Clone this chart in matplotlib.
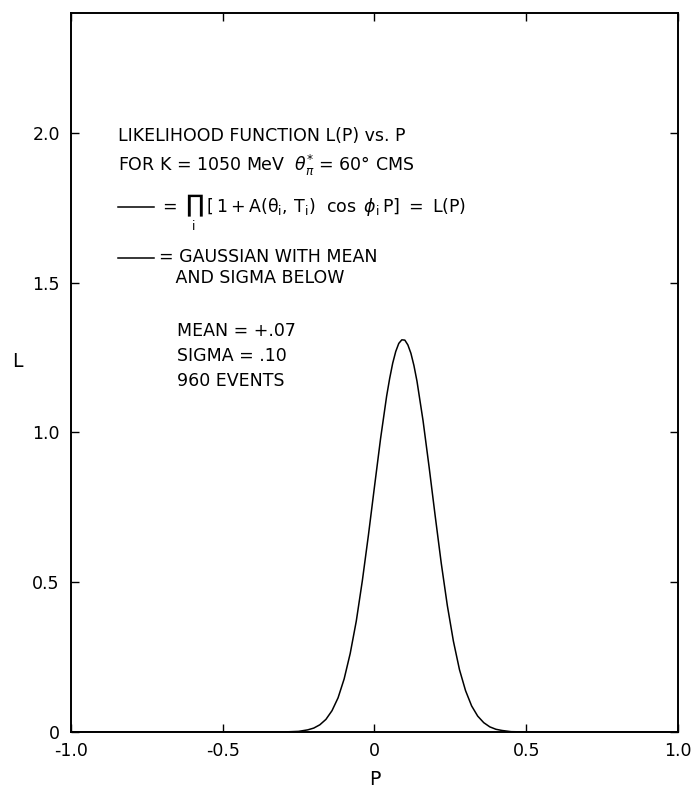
import numpy as np
import matplotlib
matplotlib.use("Agg")
import matplotlib.pyplot as plt
from matplotlib.lines import Line2D
from matplotlib.legend_handler import HandlerLine2D

plt.rcParams["font.family"] = "DejaVu Sans"
plt.rcParams["mathtext.fontset"] = "dejavusans"

# likelihood curve
P_VALS = [-1.0, -0.30, -0.25, -0.22, -0.20, -0.18, -0.16, -0.14, -0.12, -0.10,
          -0.08, -0.06, -0.04, -0.02, 0.00, 0.02, 0.04, 0.05, 0.06, 0.07,
          0.08, 0.09, 0.10, 0.11, 0.12, 0.13, 0.14, 0.16, 0.18, 0.20,
          0.22, 0.24, 0.26, 0.28, 0.30, 0.32, 0.34, 0.36, 0.38, 0.40,
          0.42, 0.45, 0.50, 1.0]
L_VALS = [0.0, 0.0, 0.002, 0.007, 0.013, 0.024, 0.042, 0.071, 0.114, 0.177,
          0.262, 0.370, 0.505, 0.657, 0.819, 0.979, 1.121, 1.180, 1.231, 1.270,
          1.297, 1.309, 1.308, 1.292, 1.264, 1.223, 1.171, 1.039, 0.884, 0.721,
          0.563, 0.422, 0.303, 0.208, 0.138, 0.087, 0.053, 0.031, 0.017, 0.009,
          0.005, 0.001, 0.0, 0.0]

X_TICKS = [-1.0, -0.5, 0.0, 0.5, 1.0]
X_LABELS = ["-1.0", "-0.5", "0", "0.5", "1.0"]
Y_TICKS = [0.0, 0.5, 1.0, 1.5, 2.0]
Y_LABELS = ["0", "0.5", "1.0", "1.5", "2.0"]

TITLE = "LIKELIHOOD FUNCTION L(P) vs. P\nFOR K = 1050 MeV  $\\theta_{\\pi}^{*}$ = 60° CMS"
LBL_PROD = (r"$=\ \prod_{\mathrm{i}}\ \left[\,\mathrm{1 + A(\theta_i,\,T_i)\ \ cos}\ \,"
            r"\phi_{\mathrm{i}}\,\mathrm{P}\right]\ =\ \mathrm{L(P)}$")
LBL_GAUSS = "= GAUSSIAN WITH MEAN\n   AND SIGMA BELOW"
STATS = "MEAN = +.07\nSIGMA = .10\n960 EVENTS"

FS = 12.5


class RaisedLine(HandlerLine2D):
    """Legend line shifted up so it sits beside the first line of a 2-line label."""
    def __init__(self, dy, **kw):
        super().__init__(**kw)
        self.dy = dy

    def create_artists(self, legend, orig_handle, xdescent, ydescent,
                       width, height, fontsize, trans):
        artists = super().create_artists(legend, orig_handle, xdescent, ydescent,
                                         width, height, fontsize, trans)
        for a in artists:
            a.set_ydata(np.asarray(a.get_ydata()) + self.dy)
        return artists


fig = plt.figure(figsize=(6.91, 7.92), dpi=100)
ax = fig.add_axes([0.1027, 0.0758, 0.8785, 0.9078])

line, = ax.plot(P_VALS, L_VALS, color="black", lw=1.1)
gauss_proxy = Line2D([], [], color="black", lw=1.1)

ax.set_xlim(-1.0, 1.0)
ax.set_ylim(0, 2.4)
ax.set_xticks(X_TICKS)
ax.set_xticklabels(X_LABELS)
ax.set_yticks(Y_TICKS)
ax.set_yticklabels(Y_LABELS)
ax.tick_params(direction="in", length=6, width=1.0, top=True, right=True,
               labelsize=FS)
ax.tick_params(axis="y", pad=8)
ax.tick_params(axis="x", pad=7)
for sp in ax.spines.values():
    sp.set_linewidth(1.4)

ax.set_xlabel("P", fontsize=FS + 1)
ax.xaxis.set_label_coords(0.5, -0.053)
ax.set_ylabel("L", fontsize=FS + 1, rotation=0, va="center", ha="center")
ax.yaxis.set_label_coords(-0.089, 0.515)

leg = ax.legend([line, gauss_proxy], [LBL_PROD, LBL_GAUSS], title=TITLE,
                handler_map={gauss_proxy: RaisedLine(dy=7.5)},
                loc="upper left", bbox_to_anchor=(0.077, 0.842),
                frameon=False, fontsize=FS, title_fontsize=FS,
                alignment="left", handlelength=2.1, handletextpad=0.3,
                labelspacing=0.85, borderpad=0.0, borderaxespad=0.0)
leg._legend_box.sep = 11
leg.get_title().set_linespacing(1.45)

ax.text(0.175, 0.57, STATS, transform=ax.transAxes, fontsize=FS,
        va="top", ha="left", linespacing=1.5)

fig.savefig("out.png", dpi=100, facecolor="white")
